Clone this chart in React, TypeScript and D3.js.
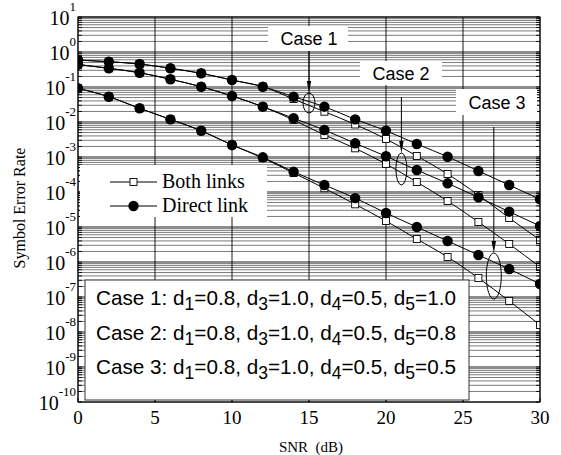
import React from "react";
import * as d3 from "d3";

// SNR sample points (dB)
const snr = [0, 2, 4, 6, 8, 10, 12, 14, 16, 18, 20, 22, 24, 26, 28, 30];

// Symbol error rate, direct link only
const directCase1 = [0.59, 0.528, 0.454, 0.342, 0.246, 0.158, 0.102, 0.0528, 0.0274, 0.0119, 0.00564, 0.00235, 0.00102, 3.98e-4, 1.58e-4, 6.2e-5];
const directCase2 = [0.44, 0.342, 0.256, 0.166, 0.102, 0.0553, 0.0274, 0.0128, 0.0059, 0.00246, 0.00105, 4.25e-4, 1.77e-4, 7.06e-5, 2.74e-5, 1.07e-5];
const directCase3 = [0.0918, 0.0528, 0.0246, 0.0119, 0.00564, 0.0022, 9.8e-4, 3.8e-4, 1.58e-4, 6.7e-5, 2.51e-5, 1.0e-5, 3.98e-6, 1.58e-6, 6.3e-7, 2.35e-7];

// Symbol error rate, both links combined
const bothCase1 = [0.59, 0.528, 0.454, 0.342, 0.246, 0.158, 0.102, 0.0454, 0.0197, 0.0085, 0.00327, 0.00107, 3.27e-4, 8.2e-5, 1.81e-5, 4.25e-6];
const bothCase2 = [0.44, 0.342, 0.256, 0.166, 0.102, 0.0553, 0.0274, 0.0114, 0.00425, 0.00177, 6.3e-4, 1.93e-4, 5.53e-5, 1.39e-5, 3.27e-6, 7.2e-7];
const bothCase3 = [0.0918, 0.0528, 0.0246, 0.0119, 0.00564, 0.0022, 9.35e-4, 3.49e-4, 1.28e-4, 4.45e-5, 1.48e-5, 4.54e-6, 1.39e-6, 3.49e-7, 7.69e-8, 1.58e-8];

const xTicks = [0, 5, 10, 15, 20, 25, 30];
const yExponents = [1, 0, -1, -2, -3, -4, -5, -6, -7, -8, -9, -10];

const legendLabels = ["Both links", "Direct link"];
const caseNames = ["Case 1", "Case 2", "Case 3"];
const caseParams = [
  ["0.8", "1.0", "0.5", "1.0"],
  ["0.8", "1.0", "0.5", "0.8"],
  ["0.8", "1.0", "0.5", "0.5"],
];
const paramIndices = ["1", "3", "4", "5"];
// SNR at which each case's pair of curves is marked
const caseMarkSnr = [15, 21, 27];

const SERIF = "'Liberation Serif', 'Times New Roman', serif";
const SANS = "'Liberation Sans', Arial, sans-serif";

export default function App() {
  const W = 561;
  const H = 455;
  const left = 78, right = 540, top = 17, bottom = 402;

  const x = d3.scaleLinear().domain([0, 30]).range([left, right]);
  const y = d3.scaleLog().domain([1e-10, 10]).range([bottom, top]);

  const line = d3
    .line<[number, number]>()
    .x((d) => x(d[0]))
    .y((d) => y(d[1]))
    .curve(d3.curveMonotoneX);

  const direct = [directCase1, directCase2, directCase3];
  const both = [bothCase1, bothCase2, bothCase3];
  const pts = (arr: number[]) => snr.map((s, i) => [s, arr[i]] as [number, number]);

  // log grid lines
  const minor: number[] = [];
  for (let e = -10; e < 1; e++) {
    for (let k = 2; k <= 9; k++) minor.push(k * Math.pow(10, e));
  }

  const sq = 7;

  // annotation layout
  const notes = [
    { box: [268, 26, 80, 25], tx: 309, ty: 45, lineTop: 51, tip: 93, cy: 103, rx: 6, ry: 10 },
    { box: [360, 61, 82, 24], tx: 401, ty: 80, lineTop: 97, tip: 153, cy: 169, rx: 5.5, ry: 16 },
    { box: [456, 89, 81, 26], tx: 497, ty: 109, lineTop: 127, tip: 253, cy: 276, rx: 7.5, ry: 23 },
  ];

  return (
    <svg
      width={W}
      height={H}
      viewBox={`0 0 ${W} ${H}`}
      style={{ position: "absolute", left: 0, top: 0, background: "#fff" }}
    >
      <defs>
        <clipPath id="plotClip">
          <rect x={left} y={top} width={right - left} height={bottom - top} />
        </clipPath>
      </defs>
      <rect x={0} y={0} width={W} height={H} fill="#fff" />

      {/* grid */}
      <g>
        {minor.map((v, i) => (
          <line key={"m" + i} x1={left} x2={right} y1={y(v)} y2={y(v)} stroke="#5a5a5a" strokeWidth={0.8} />
        ))}
        {yExponents.map((e) => (
          <line key={"M" + e} x1={left} x2={right} y1={y(Math.pow(10, e))} y2={y(Math.pow(10, e))} stroke="#000" strokeWidth={0.9} />
        ))}
        {xTicks.map((t) => (
          <line key={"v" + t} x1={x(t)} x2={x(t)} y1={top} y2={bottom} stroke="#000" strokeWidth={0.9} />
        ))}
      </g>

      {/* curves */}
      <g clipPath="url(#plotClip)">
        {both.map((arr, i) => (
          <path key={"bl" + i} d={line(pts(arr)) || ""} fill="none" stroke="#000" strokeWidth={1} />
        ))}
        {direct.map((arr, i) => (
          <path key={"dl" + i} d={line(pts(arr)) || ""} fill="none" stroke="#000" strokeWidth={1} />
        ))}
        {both.map((arr, i) =>
          arr.map((v, j) => (
            <rect
              key={"bs" + i + "-" + j}
              x={x(snr[j]) - sq / 2}
              y={y(v) - sq / 2}
              width={sq}
              height={sq}
              fill="#fff"
              stroke="#000"
              strokeWidth={0.9}
            />
          ))
        )}
        {direct.map((arr, i) =>
          arr.map((v, j) => <circle key={"dc" + i + "-" + j} cx={x(snr[j])} cy={y(v)} r={5.2} fill="#000" />)
        )}
      </g>

      {/* frame */}
      <rect x={left} y={top} width={right - left} height={bottom - top} fill="none" stroke="#000" strokeWidth={1} />

      {/* axis ticks (inward) */}
      <g stroke="#000" strokeWidth={0.9}>
        {minor.concat(yExponents.map((e) => Math.pow(10, e))).map((v, i) => (
          <g key={"t" + i}>
            <line x1={left} x2={left + 4} y1={y(v)} y2={y(v)} />
            <line x1={right - 4} x2={right} y1={y(v)} y2={y(v)} />
          </g>
        ))}
        {xTicks.map((t) => (
          <line key={"xt" + t} x1={x(t)} x2={x(t)} y1={bottom} y2={bottom - 4} />
        ))}
      </g>

      {/* tick labels */}
      <g fontFamily={SERIF} fill="#000">
        {yExponents.map((e) => (
          <text key={"yl" + e} x={76} y={y(Math.pow(10, e)) + 8} fontSize={20} textAnchor="end">
            10
            <tspan dy={-14} fontSize={13}>
              {e < 0 ? "-" + Math.abs(e) : String(e)}
            </tspan>
          </text>
        ))}
        {xTicks.map((t) => (
          <text key={"xl" + t} x={x(t)} y={424} fontSize={19} textAnchor="middle">
            {t}
          </text>
        ))}
        <text x={311} y={452} fontSize={15} textAnchor="middle" style={{ whiteSpace: "pre" }}>
          {"SNR  (dB)"}
        </text>
        <text x={25} y={208} fontSize={16} textAnchor="middle" transform="rotate(-90 25 208)">
          Symbol Error Rate
        </text>
      </g>

      {/* legend */}
      <g>
        <rect x={80} y={165} width={187} height={52} fill="#fff" />
        {[0, 1].map((k) => {
          const ly = 182 + k * 24;
          return (
            <g key={"lg" + k}>
              <line x1={110} x2={157} y1={ly} y2={ly} stroke="#000" strokeWidth={1} />
              {k === 0 ? (
                <rect x={133.5 - sq / 2} y={ly - sq / 2} width={sq} height={sq} fill="#fff" stroke="#000" strokeWidth={0.9} />
              ) : (
                <circle cx={133.5} cy={ly} r={5.2} fill="#000" />
              )}
              <text x={162} y={ly + 6} fontFamily={SERIF} fontSize={20} fill="#000">
                {legendLabels[k]}
              </text>
            </g>
          );
        })}
      </g>

      {/* parameter box */}
      <g>
        <rect x={85} y={280} width={384} height={120} fill="#fff" stroke="#333" strokeWidth={1} />
        {caseParams.map((ps, r) => (
          <text key={"cp" + r} x={96} y={305 + r * 34.5} fontFamily={SANS} fontSize={20.7} fill="#000">
            {caseNames[r] + ": "}
            {ps.map((p, k) => (
              <React.Fragment key={k}>
                <tspan>d</tspan>
                <tspan dy={5} fontSize={17.5}>
                  {paramIndices[k]}
                </tspan>
                <tspan dy={-5}>{"=" + p + (k < ps.length - 1 ? ", " : "")}</tspan>
              </React.Fragment>
            ))}
          </text>
        ))}
      </g>

      {/* case annotations */}
      <g>
        {notes.map((n, i) => {
          const cx = x(caseMarkSnr[i]);
          return (
            <g key={"n" + i}>
              <rect x={n.box[0]} y={n.box[1]} width={n.box[2]} height={n.box[3]} fill="#fff" />
              <text x={n.tx} y={n.ty} fontFamily={SANS} fontSize={18} textAnchor="middle" fill="#000">
                {caseNames[i]}
              </text>
              <line x1={cx} x2={cx} y1={n.lineTop} y2={n.tip - 8} stroke="#000" strokeWidth={1} />
              <path d={`M${cx - 2.2},${n.tip - 12} L${cx + 2.2},${n.tip - 12} L${cx},${n.tip} Z`} fill="#000" />
              <ellipse cx={cx} cy={n.cy} rx={n.rx} ry={n.ry} fill="none" stroke="#000" strokeWidth={1} />
            </g>
          );
        })}
      </g>
    </svg>
  );
}
